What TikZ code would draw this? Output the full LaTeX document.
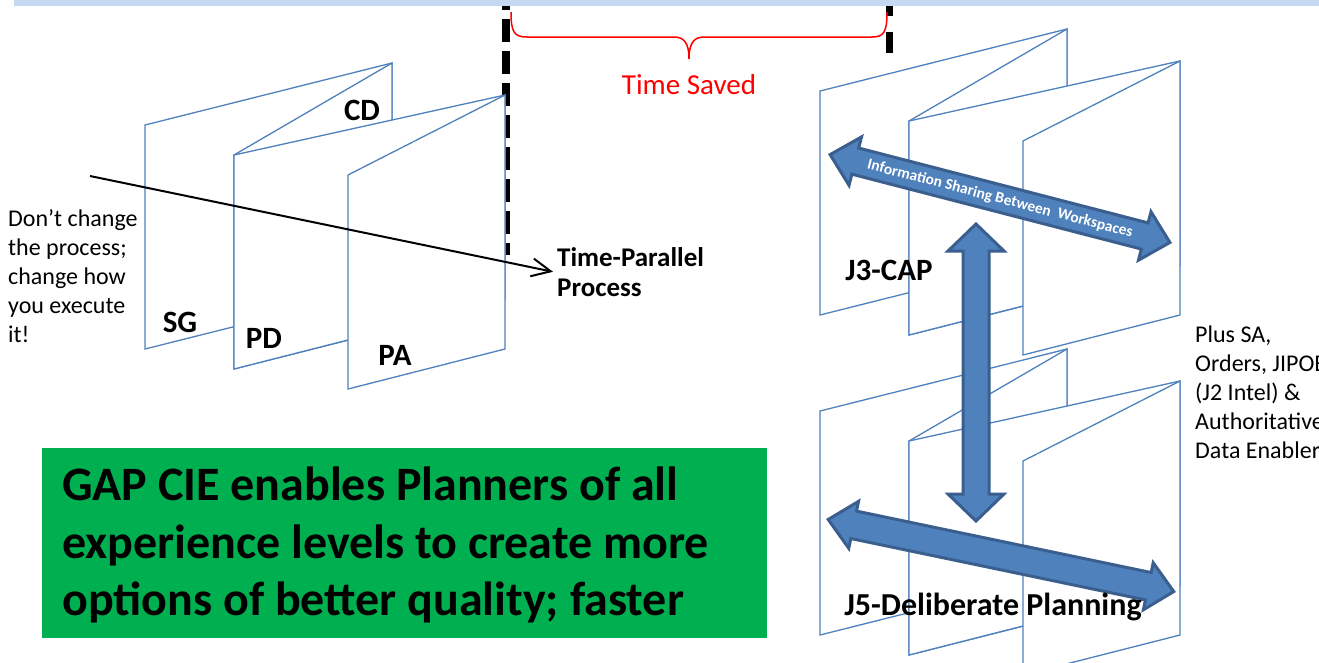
\documentclass[tikz,border=0pt]{standalone}
\usepackage{fontspec}
\setmainfont{Carlito}
\usetikzlibrary{arrows.meta}
\definecolor{sheetblue}{HTML}{4F81BD}
\definecolor{arrowfill}{HTML}{4F81BD}
\definecolor{arrowedge}{HTML}{3A5F8F}
\definecolor{bandblue}{HTML}{C6D9F1}
\definecolor{boxgreen}{HTML}{00B050}
\newcommand\BlockArrow[7]{%
  % #1,#2 start, #3 angle, #4 length, #5 shaft half width, #6 head half width, #7 head length
  \begin{scope}[shift={(#1,#2)}, rotate=#3]
    \path[blockarrow] (0,0) -- (#7,-#6) -- (#7,-#5) -- (#4-#7,-#5) -- (#4-#7,-#6) -- (#4,0)
      -- (#4-#7,#6) -- (#4-#7,#5) -- (#7,#5) -- (#7,#6) -- cycle;
  \end{scope}}
\begin{document}
\begin{tikzpicture}[x=1pt,y=-1pt,
  sheet/.style={draw=sheetblue, fill=white, line width=1.3pt, line join=miter},
  lbl/.style={font=\bfseries\fontsize{31}{35}\selectfont, inner sep=0pt, anchor=base},
  note/.style={font=\fontsize{24}{29}\selectfont, align=left, inner sep=0pt, anchor=north west},
  blockarrow/.style={fill=arrowfill, draw=arrowedge, line width=3pt, line join=miter},
  folder/.pic={
    \path[sheet] (145,125) -- (392,63) -- (392,287) -- (145,349) -- cycle;
    \path[sheet] (392,63) -- (234,155) -- (234,369) -- (392,329) -- cycle;
    \path[sheet] (234,155) -- (505,95) -- (505,300) -- (234,369) -- cycle;
    \path[sheet] (505,95) -- (348,175) -- (348,389) -- (505,349) -- cycle;
  }]
\useasboundingbox (0,0) rectangle (1319,662);

% dashed timeline markers
\draw[line width=8pt, dash pattern=on 23pt off 9pt] (506,-13) -- (506,255);
\draw[line width=7pt, dash pattern=on 21pt off 16pt] (889,-5) -- (889,53);
% top band
\fill[bandblue] (14,0) rectangle (1319,6);

% folded workspaces
\pic at (0,0) {folder};
\pic at (675,-34) {folder};
\pic at (675,286) {folder};

% time saved brace
\draw[red, line width=1.5pt] (511,12) .. controls (511,32) and (514,37) .. (527,37) -- (674,37)
  .. controls (684,37) and (689,43) .. (689,59)
  .. controls (689,43) and (694,37) .. (704,37) -- (872,37)
  .. controls (884,37) and (887,32) .. (887,12);
\node (saved) [font=\fontsize{29}{33}\selectfont, text=red, inner sep=0pt, anchor=base] at (689,94) {Time Saved};

% left labels
\node (cd) [lbl] at (362,120) {CD};
\node (sg) [lbl] at (180,332) {SG};
\node (pd) [lbl] at (264,348) {PD};
\node (pa) [lbl] at (395,365) {PA};

\node (dont) [note] at (8,209) {Don’t change\\the process;\\change how\\you execute\\it!};
\node (tpp) [font=\bfseries\fontsize{27}{30}\selectfont, align=left, inner xsep=4pt, inner ysep=0pt, anchor=north west] at (553,247) {Time-Parallel\\Process};
\coordinate (arrstart) at (90,176);
\draw[line width=2pt, -{Straight Barb[length=19pt,width=18pt,line width=2pt]}] (arrstart) -- (tpp.west);

% block arrows
\BlockArrow{830.1}{154.6}{-14.5}{351}{13.5}{25}{26}
\BlockArrow{976}{224}{-90}{297}{13}{28}{27}
\BlockArrow{828.2}{519.5}{-11.78}{353}{14}{24}{26}
\node (info) [text=white, font=\bfseries\fontsize{15.5}{18}\selectfont, rotate=-14.5, inner sep=0pt] at (1000,199) {Information Sharing Between~~Workspaces};

\node (j3) [lbl] at (889,280) {J3-CAP};
\node (j5) [lbl, font=\bfseries\fontsize{32}{36}\selectfont] at (993,615) {J5-Deliberate Planning};

\node (plus) [note] at (1195,326) {Plus SA,\\Orders, JIPOE\\(J2 Intel) \&\\Authoritative\\Data Enabler};

% green statement box
\node (gapbox) [fill=boxgreen, minimum width=725pt, minimum height=190pt, inner sep=0pt, anchor=north west] at (42,448) {};
\node (gaptext) [font=\bfseries\fontsize{48}{57.5}\selectfont, align=left, inner sep=0pt, anchor=north west] at (62,467) {GAP CIE enables Planners of all\\experience levels to create more\\options of better quality; faster};
\end{tikzpicture}
\end{document}
